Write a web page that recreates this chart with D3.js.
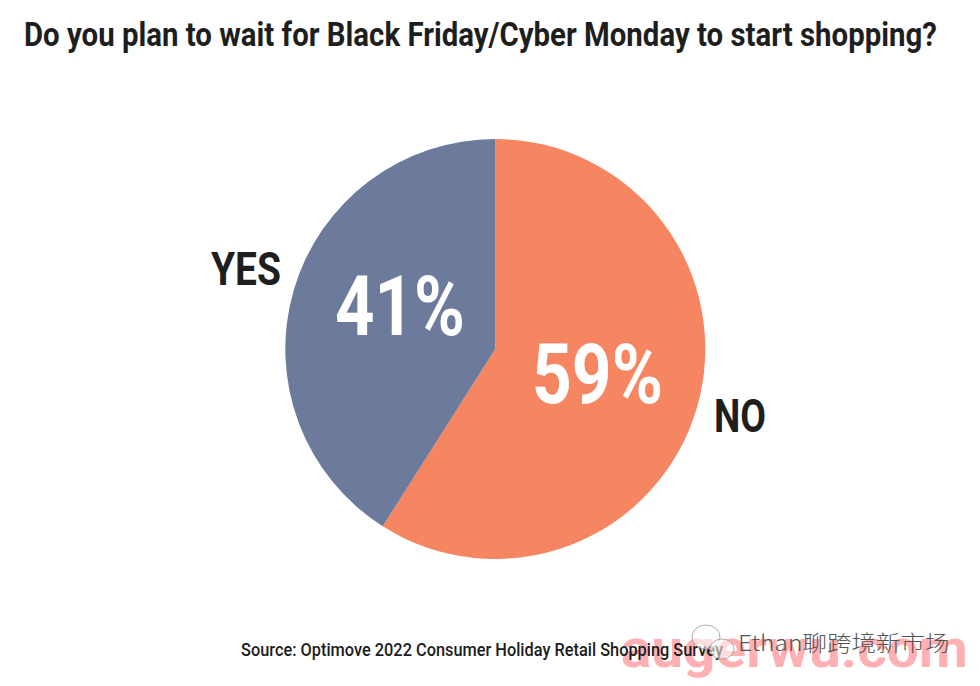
<!DOCTYPE html>
<html><head><meta charset="utf-8"><script src="https://cdn.jsdelivr.net/npm/d3@7"></script>
<style>html,body{margin:0;padding:0;background:#fff}svg{display:block}text{font-family:Roboto,sans-serif}</style></head>
<body><svg id="c" width="980" height="686"></svg>
<script>
const categories = ["NO","YES"];
const values = [59,41];
const sliceColors = ["#f68562","#6c7a9c"];
const titleText = "Do you plan to wait for Black Friday/Cyber Monday to start shopping?";
const sourceText = "Source: Optimove 2022 Consumer Holiday Retail Shopping Survey";
const watermark1 = "Ethan聊跨境新市场";
const watermark2 = "augerwu.com";
const svg = d3.select("#c");
const cx=495.3, cy=349, R=210;
// place a text with its left edge at x and squeezed to width w (condensed look)
function fit(sel,x,y,w){
  const natural = sel.node().getComputedTextLength();
  sel.attr("transform",`translate(${x},${y}) scale(${w/natural},1)`);
  return sel;
}
function put(txt,size,weight,fill,x,y,w){
  const t = svg.append("text").attr("font-size",size).attr("font-weight",weight).attr("fill",fill).text(txt);
  return fit(t,x,y,w);
}
// pink watermark sits beneath the dark source line
put(watermark2,52,700,"#ffb0b2",621,667,347);
const pie = d3.pie().sort(null)(values);
const arc = d3.arc().innerRadius(0).outerRadius(R);
const g = svg.append("g").attr("transform",`translate(${cx},${cy})`);
g.selectAll("path").data(pie).join("path").attr("d",arc).attr("fill",(d,i)=>sliceColors[i]);
put(titleText,33,700,"#1e1e1e",24,46,913);
const pctBox=[[532,403,131],[335,335,130]];
values.forEach((v,i)=>put(v+"%",83,700,"#fff",pctBox[i][0],pctBox[i][1],pctBox[i][2]));
const labBox=[[714,432,52],[211,285,70]];
categories.forEach((c,i)=>put(c,47,700,"#1e1e1e",labBox[i][0],labBox[i][1],labBox[i][2]));
put(sourceText,19,500,"#1c1c1c",241,656,482);
// WeChat-style double bubble logo behind the account name
const logo = svg.append("g").attr("fill","#fff").attr("fill-opacity",.55).attr("stroke","#999").attr("stroke-width",.8);
logo.append("ellipse").attr("cx",706).attr("cy",637).attr("rx",14).attr("ry",12);
logo.append("ellipse").attr("cx",722).attr("cy",649).attr("rx",12).attr("ry",10);
put(watermark1,22,300,"#555",738,651,209).style("font-family","'Noto Sans CJK SC',sans-serif");
</script></body></html>
